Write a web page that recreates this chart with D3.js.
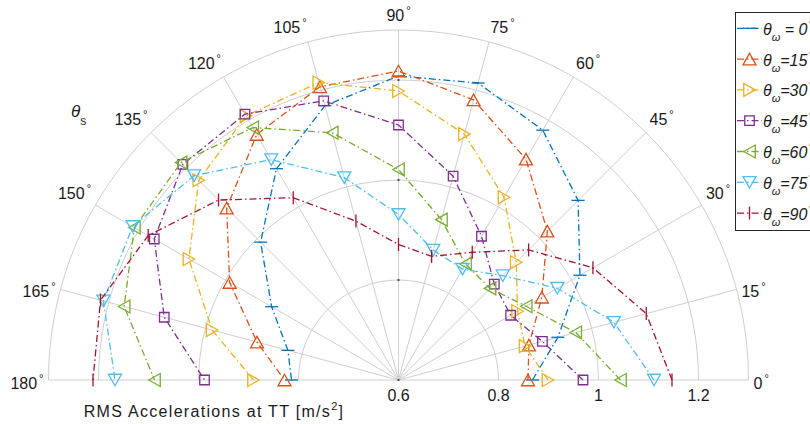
<!DOCTYPE html>
<html>
<head>
<meta charset="utf-8">
<script src="https://cdn.jsdelivr.net/npm/d3@7"></script>
<style>
  body { margin: 0; background: #fff; }
  svg { display: block; font-family: "Liberation Sans", Arial, sans-serif; }
</style>
</head>
<body>
<div id="chart"></div>
<script>
// theta_s angles (deg) and RMS accelerations for each theta_omega
const thetaS = [0, 15, 30, 45, 60, 75, 90, 105, 120, 135, 150, 165, 180];
const omegaLabels = ["0", "15", "30", "45", "60", "75", "90"];

const acc0  = [0.868, 0.930, 1.019, 1.108, 1.177, 1.215, 1.208, 1.168, 1.088, 0.990, 0.893, 0.829, 0.814];
const acc15 = [0.859, 0.870, 0.931, 1.021, 1.110, 1.180, 1.218, 1.207, 1.167, 1.086, 0.990, 0.893, 0.828];
const acc30 = [0.899, 0.862, 0.875, 0.933, 1.022, 1.109, 1.178, 1.216, 1.210, 1.165, 1.084, 0.986, 0.890];
const acc45 = [0.969, 0.898, 0.859, 0.871, 0.932, 1.022, 1.110, 1.178, 1.214, 1.210, 1.164, 1.085, 0.988];
const acc60 = [1.044, 0.967, 0.895, 0.859, 0.868, 0.932, 1.021, 1.112, 1.183, 1.215, 1.210, 1.168, 1.088];
const acc75 = [1.111, 1.046, 0.967, 0.895, 0.856, 0.869, 0.931, 1.019, 1.109, 1.178, 1.214, 1.211, 1.167];
const acc90 = [1.147, 1.113, 1.049, 0.968, 0.895, 0.856, 0.871, 0.929, 1.021, 1.109, 1.178, 1.217, 1.211];

const angleTicks = [0, 15, 30, 45, 60, 75, 90, 105, 120, 135, 150, 165, 180];
const radialTicks = [0.6, 0.8, 1.0, 1.2];
const radialTickLabels = ["0.6", "0.8", "1", "1.2"];
const rMin = 0.6, rMax = 1.3;

const colors = ["#0072BD", "#D95319", "#EDB120", "#7E2F8E", "#77AC30", "#4DBEEE", "#A2142F"];
const markers = ["hbar", "up", "right", "square", "left", "down", "vbar"];

const series = [acc0, acc15, acc30, acc45, acc60, acc75, acc90].map((vals, i) => ({
    label: omegaLabels[i],
    color: colors[i],
    marker: markers[i],
    points: vals.map((v, j) => ({ theta: thetaS[j], value: v }))
}));

const width = 810, height = 424;
const cx = 398.5, cy = 380;
const outerR = 350;

const svg = d3.select("#chart").append("svg")
    .attr("width", width)
    .attr("height", height);

const r = d3.scaleLinear().domain([rMin, rMax]).range([0, outerR]);
const ang = t => (90 - t) * Math.PI / 180;   // d3 radial angle: clockwise from 12 o'clock

const g = svg.append("g").attr("transform", `translate(${cx},${cy})`);

// grid: half circles
const gridColor = "#cfcfcf";
[0.8, 1.0, 1.2, rMax].forEach(v => {
    const p = d3.path();
    p.moveTo(-r(v), 0);
    p.arc(0, 0, r(v), Math.PI, 2 * Math.PI);
    g.append("path").attr("d", p.toString())
        .attr("fill", "none").attr("stroke", gridColor).attr("stroke-width", 1);
});

// grid: spokes
g.selectAll(".spoke").data(angleTicks).join("line")
    .attr("class", "spoke")
    .attr("x1", 0).attr("y1", 0)
    .attr("x2", t => d3.pointRadial(ang(t), outerR)[0])
    .attr("y2", t => d3.pointRadial(ang(t), outerR)[1])
    .attr("stroke", gridColor).attr("stroke-width", 1);

// small tick marks along the 90 deg spoke
g.selectAll(".rtick").data(radialTicks).join("line")
    .attr("class", "rtick")
    .attr("x1", -1).attr("x2", 1)
    .attr("y1", v => -r(v)).attr("y2", v => -r(v))
    .attr("stroke", "#222").attr("stroke-width", 1.5);

// angle labels
const angLab = g.selectAll(".alab").data(angleTicks).join("text")
    .attr("class", "alab")
    .attr("font-size", 16)
    .attr("fill", "#1a1a1a")
    .attr("x", t => d3.pointRadial(ang(t), 355)[0])
    .attr("y", t => d3.pointRadial(ang(t), 355)[1] + ((t <= 15 || t >= 165) ? 8.5 : -4))
    .attr("text-anchor", t => t < 90 ? "start" : (t > 90 ? "end" : "middle"));
angLab.append("tspan").text(t => t);
angLab.append("tspan").attr("font-size", 11).attr("dx", 2).attr("dy", -7).text("°");

// radial labels
g.selectAll(".rlab").data(radialTicks).join("text")
    .attr("class", "rlab")
    .attr("font-size", 16)
    .attr("fill", "#1a1a1a")
    .attr("text-anchor", "middle")
    .attr("x", v => r(v))
    .attr("y", 21)
    .text((v, i) => radialTickLabels[i]);

// marker shapes
function markerPath(type) {
    const w = 13, h = 11.5, s = 9.5;
    switch (type) {
        case "up":    return `M0,${-h/2}L${w/2},${h/2}L${-w/2},${h/2}Z`;
        case "down":  return `M0,${h/2}L${w/2},${-h/2}L${-w/2},${-h/2}Z`;
        case "right": return `M${h/2},0L${-h/2},${-w/2}L${-h/2},${w/2}Z`;
        case "left":  return `M${-h/2},0L${h/2},${-w/2}L${h/2},${w/2}Z`;
        case "square":return `M${-s/2},${-s/2}h${s}v${s}h${-s}Z`;
        case "hbar":  return `M-6.5,0H6.5`;
        case "vbar":  return `M0,-6.5V6.5`;
    }
}

const dash = "7,3,1.5,3";
const lineGen = d3.lineRadial()
    .angle(d => ang(d.theta))
    .radius(d => r(d.value));

const sg = g.selectAll(".series").data(series).join("g").attr("class", "series");

sg.append("path")
    .attr("d", d => lineGen(d.points))
    .attr("fill", "none")
    .attr("stroke", d => d.color)
    .attr("stroke-width", 1.3)
    .attr("stroke-dasharray", dash);

sg.each(function(s) {
    d3.select(this).selectAll(".mk").data(s.points).join("path")
        .attr("class", "mk")
        .attr("transform", d => {
            const [x, y] = d3.pointRadial(ang(d.theta), r(d.value));
            return `translate(${x},${y})`;
        })
        .attr("d", markerPath(s.marker))
        .attr("fill", "none")
        .attr("stroke", s.color)
        .attr("stroke-width", 1.3);
});

// axis labels
const xl = svg.append("text")
    .attr("x", 214).attr("y", 417)
    .attr("text-anchor", "middle")
    .attr("font-size", 16)
    .attr("letter-spacing", 1.3)
    .attr("fill", "#1a1a1a");
xl.append("tspan").text("RMS Accelerations at TT [m/s");
xl.append("tspan").attr("font-size", 11).attr("dy", -7).text("2");
xl.append("tspan").attr("dy", 7).text("]");

const yl = svg.append("text")
    .attr("x", 71).attr("y", 117)
    .attr("fill", "#1a1a1a");
yl.append("tspan").attr("font-size", 17).attr("font-style", "italic").text("θ");
yl.append("tspan").attr("font-size", 12).attr("dy", 8).text("s");

// legend (clipped by the right edge, as in the original figure)
const legX = 735.5, legY = 12.5, legRow = 30.8, legFirst = 28.3;
const leg = svg.append("g");
leg.append("rect")
    .attr("x", legX).attr("y", legY)
    .attr("width", 110).attr("height", 218)
    .attr("fill", "#fff")
    .attr("stroke", "#262626").attr("stroke-width", 1);

const li = leg.selectAll(".li").data(series).join("g")
    .attr("class", "li")
    .attr("transform", (d, i) => `translate(0,${legFirst + i * legRow})`);

li.append("line")
    .attr("x1", 737).attr("x2", 762).attr("y1", 0).attr("y2", 0)
    .attr("stroke", d => d.color).attr("stroke-width", 1.3)
    .attr("stroke-dasharray", dash);
li.append("path")
    .attr("transform", "translate(749.5,0)")
    .attr("d", d => markerPath(d.marker))
    .attr("fill", "none")
    .attr("stroke", d => d.color).attr("stroke-width", 1.3);

const lt = li.append("text")
    .attr("x", 763).attr("y", 6.5)
    .attr("font-size", 16)
    .attr("font-style", "italic")
    .attr("fill", "#1a1a1a");
lt.append("tspan").text("θ");
lt.append("tspan").attr("font-size", 11).attr("dy", 6).text("ω");
lt.append("tspan").attr("dy", -6).text(d => d.label === "0" ? " = 0" : "=" + d.label);
lt.append("tspan").attr("font-size", 11).attr("dx", 1).attr("dy", -7).text("°");
</script>
</body>
</html>
